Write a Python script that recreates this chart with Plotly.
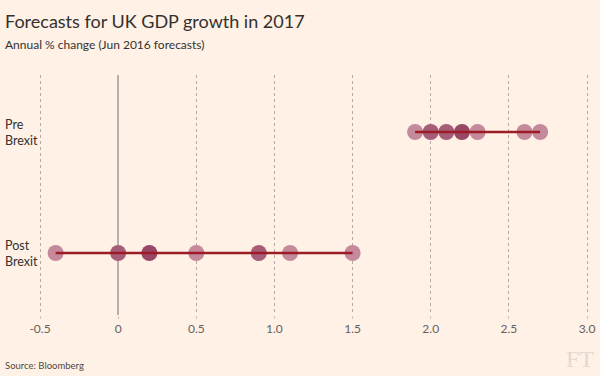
import plotly.graph_objects as go

# Data
groups = ["Post<br>Brexit", "Pre<br>Brexit"]
pre_values = [1.9, 2.0, 2.1, 2.2, 2.3, 2.6, 2.7]
pre_counts = [1, 2, 2, 3, 1, 1, 1]
post_values = [-0.4, 0.0, 0.2, 0.5, 0.9, 1.1, 1.5]
post_counts = [1, 2, 3, 1, 2, 1, 1]
x_ticks = [-0.5, 0, 0.5, 1.0, 1.5, 2.0, 2.5, 3.0]
x_tick_labels = ["-0.5", "0", "0.5", "1.0", "1.5", "2.0", "2.5", "3.0"]

BG = "#fff1e5"
count_colors = {1: "#c48a9b", 2: "#a65d78", 3: "#984866"}
LINE = "#9b1c26"
ML, MR = 36, 9
PW = 600 - ML - MR  # plot width in px
PH = 240  # plot height in px
PAD = 4 / 156.3  # axis padding so edge gridlines are drawn

fig = go.Figure()

for yi, vals, cnts in [(1, pre_values, pre_counts), (0, post_values, post_counts)]:
    fig.add_trace(go.Scatter(
        x=vals, y=[yi] * len(vals), mode="markers",
        marker=dict(size=16, color=[count_colors[c] for c in cnts], line=dict(width=0)),
        hoverinfo="x", showlegend=False))
    fig.add_trace(go.Scatter(
        x=[min(vals), max(vals)], y=[yi, yi], mode="lines",
        line=dict(color=LINE, width=2.5), hoverinfo="skip", showlegend=False))

annotations = [
    dict(text="Forecasts for UK GDP growth in 2017", xref="paper", yref="paper",
         x=-(ML - 3) / PW, y=1 + (75 - 21) / PH, xanchor="left", yanchor="middle",
         showarrow=False, font=dict(size=18, color="#33302e")),
    dict(text="Annual % change (Jun 2016 forecasts)", xref="paper", yref="paper",
         x=-(ML - 3) / PW, y=1 + (75 - 44) / PH, xanchor="left", yanchor="middle",
         showarrow=False, font=dict(size=12, color="#33302e")),
    dict(text="Source: Bloomberg", xref="paper", yref="paper",
         x=-(ML - 3) / PW, y=-(365 - 315) / PH, xanchor="left", yanchor="middle",
         showarrow=False, font=dict(size=9.5, color="#4d4845")),
    dict(text="FT", xref="paper", yref="paper",
         x=1 + (MR - 4) / PW, y=-(359 - 315) / PH, xanchor="right", yanchor="middle",
         showarrow=False, font=dict(size=24, color="#e6d9ce", family="Liberation Serif, serif")),
]
for yi, label in enumerate(groups):
    annotations.append(dict(text=label, xref="paper", yref="y", x=-(ML - 3) / PW, y=yi,
                            xanchor="left", yanchor="middle", align="left",
                            showarrow=False, font=dict(size=12.5, color="#33302e")))

fig.update_layout(
    width=600, height=376,
    paper_bgcolor=BG, plot_bgcolor=BG,
    margin=dict(l=ML, r=MR, t=75, b=61),
    font=dict(family="Lato, sans-serif", color="#33302e"),
    xaxis=dict(range=[-0.5 - PAD, 3.0 + PAD], tickvals=x_ticks, ticktext=x_tick_labels,
               showgrid=True, gridcolor="#b3aba4", griddash="dot", gridwidth=1,
               zeroline=True, zerolinecolor="#b8b0aa", zerolinewidth=1.5,
               ticks="outside", ticklen=3, tickcolor="#cfc6bd", automargin=False,
               tickfont=dict(size=12, color="#66605c"), showline=False),
    yaxis=dict(range=[-0.512, 1.471], showgrid=False, zeroline=False, automargin=False,
               showticklabels=False, fixedrange=True),
    annotations=annotations,
)

fig.write_html("out.html", config={"displayModeBar": False},
               post_script="document.body.style.margin='0';document.body.style.overflow='hidden';")
